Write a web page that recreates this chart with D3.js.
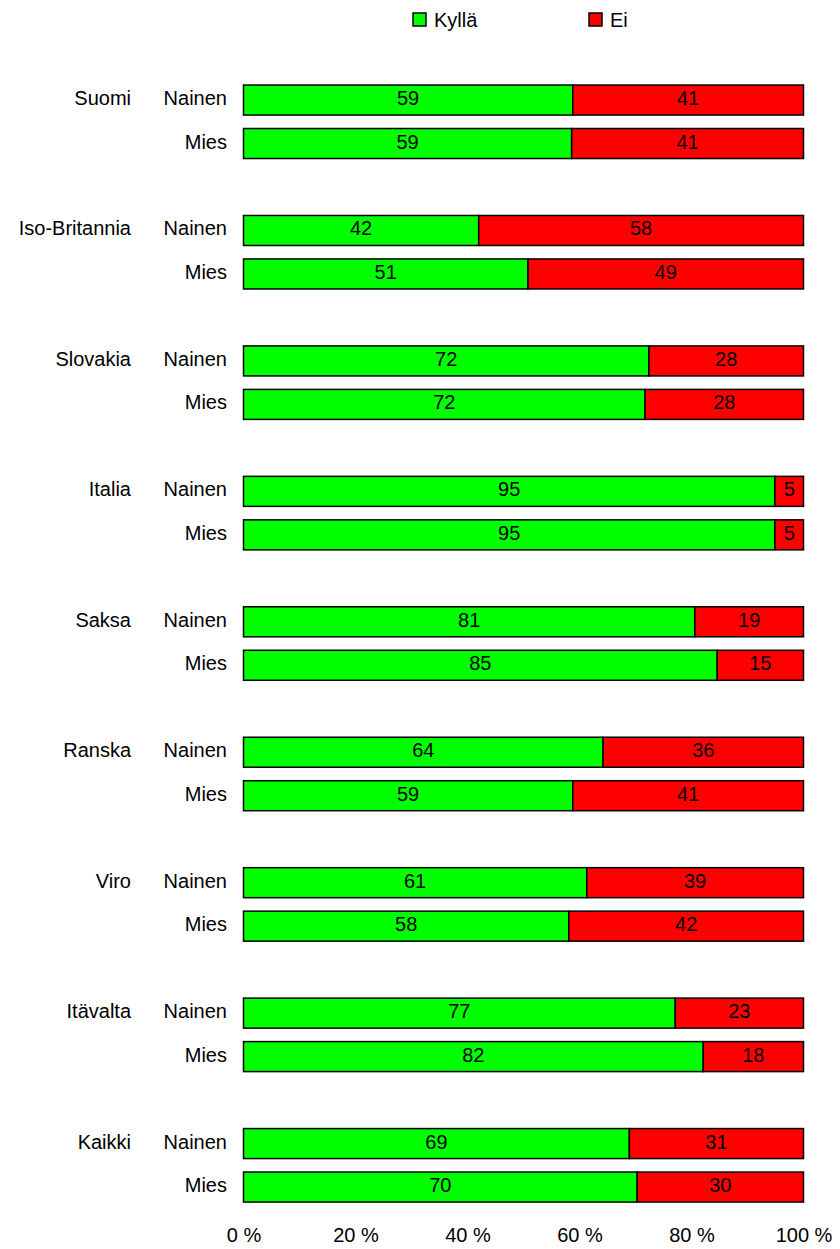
<!DOCTYPE html>
<html>
<head>
<meta charset="utf-8">
<script src="https://cdn.jsdelivr.net/npm/d3@7"></script>
<style>
    body { margin: 0; background: white; }
    svg text { font-family: "Liberation Sans", Arial, sans-serif; }
</style>
</head>
<body>
<svg id="chart"></svg>
<script>
// data
const countries = ["Suomi", "Iso-Britannia", "Slovakia", "Italia", "Saksa", "Ranska", "Viro", "Itävalta", "Kaikki"];
const genders = ["Nainen", "Mies"];
const seriesNames = ["Kyllä", "Ei"];
// share per country, [Nainen, Mies]
const kylla = [[58.8, 58.6], [42.0, 50.8], [72.4, 71.7], [94.9, 94.9], [80.6, 84.6], [64.2, 58.8], [61.3, 58.1], [77.1, 82.1], [68.9, 70.3]];
const ei = [[41.2, 41.4], [58.0, 49.2], [27.6, 28.3], [5.1, 5.1], [19.4, 15.4], [35.8, 41.2], [38.7, 41.9], [22.9, 17.9], [31.1, 29.7]];
const tickValues = [0, 20, 40, 60, 80, 100];

const size = {width: 840, height: 1249};
const colors = ["#00ff00", "#ff0000"];

const svg = d3.select("#chart")
    .attr("width", size.width)
    .attr("height", size.height);

const x = d3.scaleLinear()
    .domain([0, 100])
    .range([243.5, 803.5]);

const groupStep = 130.44;
const y0 = d3.scaleBand()
    .domain(countries)
    .range([78.3, 78.3 + groupStep * countries.length]);

// third slot is an empty spacer between countries
const y1 = d3.scaleBand()
    .domain(genders.concat([""]))
    .range([0, groupStep])
    .paddingInner(0.31)
    .paddingOuter(0.155);

const z = d3.scaleOrdinal().domain(seriesNames).range(colors);

let rows = [];
countries.forEach(function(c, i) {
    genders.forEach(function(g, j) {
        let start = 0;
        [kylla[i][j], ei[i][j]].forEach(function(v, k) {
            rows.push({country: c, gender: g, key: seriesNames[k], x0: start, x1: start + v, value: v});
            start += v;
        });
    });
});

const fontSize = "20px";
const textShift = 5;

let g = svg.append("g");

let seg = g.selectAll("g.seg")
    .data(rows)
    .enter().append("g")
    .attr("class", "seg")
    .attr("transform", function(d) { return "translate(0," + (y0(d.country) + y1(d.gender)) + ")"; });

seg.append("rect")
    .attr("x", function(d) { return x(d.x0); })
    .attr("y", 0)
    .attr("width", function(d) { return x(d.x1) - x(d.x0); })
    .attr("height", y1.bandwidth())
    .attr("fill", function(d) { return z(d.key); })
    .attr("stroke", "#000")
    .attr("stroke-width", 1.5);

seg.append("text")
    .attr("x", function(d) { return (x(d.x0) + x(d.x1)) / 2; })
    .attr("y", y1.bandwidth() / 2 + textShift)
    .attr("text-anchor", "middle")
    .style("font-size", fontSize)
    .attr("fill", "#000")
    .text(function(d) { return Math.round(d.value); });

// gender labels
countries.forEach(function(c) {
    genders.forEach(function(gn) {
        g.append("text")
            .attr("x", 227)
            .attr("y", y0(c) + y1(gn) + y1.bandwidth() / 2 + textShift)
            .attr("text-anchor", "end")
            .style("font-size", fontSize)
            .text(gn);
    });
});

// country labels
g.selectAll("text.country")
    .data(countries)
    .enter().append("text")
    .attr("class", "country")
    .attr("x", 131)
    .attr("y", function(d) { return y0(d) + y1("Nainen") + y1.bandwidth() / 2 + textShift; })
    .attr("text-anchor", "end")
    .style("font-size", fontSize)
    .text(function(d) { return d; });

// x axis, labels only
let bottomAxis = d3.axisBottom(x)
    .tickValues(tickValues)
    .tickSize(0)
    .tickPadding(0)
    .tickFormat(function(d) { return d + " %"; });

let axis = svg.append("g")
    .attr("class", "axis axis-x")
    .attr("transform", "translate(0,1228)")
    .call(bottomAxis);
axis.select(".domain").remove();
axis.selectAll("text")
    .attr("fill", "#000")
    .style("font-size", fontSize)
    .style("font-family", "'Liberation Sans', Arial, sans-serif");

// Legend
const legendX = [413, 589];
let legend = svg.append("g")
    .selectAll("g")
    .data(seriesNames)
    .enter().append("g")
    .attr("transform", function(d, i) { return "translate(" + legendX[i] + ",13)"; });

legend.append("rect")
    .attr("width", 13)
    .attr("height", 13)
    .attr("fill", z)
    .attr("stroke", "#000")
    .attr("stroke-width", 1.5);

legend.append("text")
    .attr("x", 21)
    .attr("y", 13.5)
    .style("font-size", fontSize)
    .text(function(d) { return d; });
</script>
</body>
</html>
